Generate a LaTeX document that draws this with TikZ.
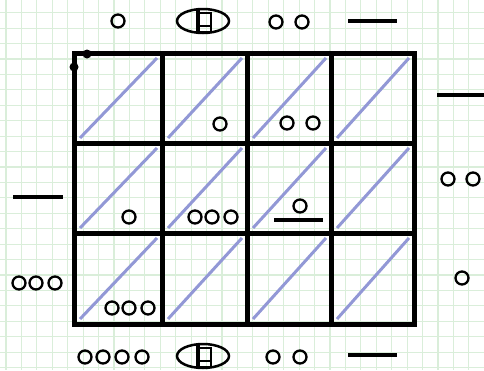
\documentclass[tikz,border=0pt]{standalone}
\usetikzlibrary{shapes.geometric}
\definecolor{gridgreen}{RGB}{218,238,218}
\definecolor{diagblue}{RGB}{146,152,214}
\tikzset{
  ring/.style={circle,draw=black,line width=2.3pt,minimum size=13pt,inner sep=0pt},
  bar/.style={line width=3.8pt,black},
  frame/.style={line width=5pt,black},
  diag/.style={line width=3pt,diagblue},
  symb/.style={ellipse,draw=black,line width=2.5pt,minimum width=52pt,minimum height=24pt,inner sep=0pt},
}
\newcommand{\symbolmark}[2]{%
  \node[symb] (#1) at (#2) {};
  \draw[black,line width=2pt] ([xshift=-6pt,yshift=8pt]#1.center) rectangle ([xshift=8pt,yshift=-11pt]#1.center);
  \draw[black,line width=2pt] ([xshift=-6pt,yshift=-5pt]#1.center) -- ([xshift=8pt,yshift=-5pt]#1.center);
  \draw[black,line width=4.5pt] ([xshift=-5pt,yshift=13pt]#1.center) -- ([xshift=-5pt,yshift=-12pt]#1.center);
}
\begin{document}
\begin{tikzpicture}[x=1pt,y=-1pt]
\useasboundingbox[fill=white] (0,0) rectangle (484,370);
% background grid
\foreach \k in {0,...,31} {\draw[gridgreen,line width=1.1pt] (6+15.43*\k,0) -- (6+15.43*\k,370);}
\foreach \k in {0,...,24} {\draw[gridgreen,line width=1.1pt] (0,-2.73+15.43*\k) -- (484,-2.73+15.43*\k);}
% diagonals
\foreach \xa/\xb in {74/162,162/247,247/331,331/414} {
  \foreach \ya/\yb in {53/143,143/233,233/324} {
    \draw[diag] (\xa+6,\yb-5) -- (\xb-5,\ya+5);
  }
}
% frame
\coordinate (tl) at (74,53);
\coordinate (br) at (414,324);
\draw[frame] (tl) rectangle (br);
\foreach \x in {162,247,331} {\draw[frame] (\x,53) -- (\x,324);}
\foreach \y in {143,233} {\draw[frame] (74,\y) -- (414,\y);}
\fill[black] (87,54) circle (4.5pt);
\fill[black] (74,67) circle (4.5pt);
% top labels
\node[ring] (t1) at (118,21) {};
\symbolmark{ts}{203,21}
\node[ring] (t3a) at (276,22) {};
\node[ring] (t3b) at (302,22) {};
\coordinate (t4a) at (348,21); \coordinate (t4b) at (397,21);
\draw[bar] (t4a) -- (t4b);
% bottom labels
\node[ring] (b1a) at (85,357) {};
\node[ring] (b1b) at (103,357) {};
\node[ring] (b1c) at (122,357) {};
\node[ring] (b1d) at (142,357) {};
\symbolmark{bs}{203,356}
\node[ring] (b3a) at (273,357) {};
\node[ring] (b3b) at (300,357) {};
\coordinate (b4a) at (348,355); \coordinate (b4b) at (397,355);
\draw[bar] (b4a) -- (b4b);
% left labels
\coordinate (l1a) at (13,197); \coordinate (l1b) at (63,197);
\draw[bar] (l1a) -- (l1b);
\node[ring] (l2a) at (19,283) {};
\node[ring] (l2b) at (36,283) {};
\node[ring] (l2c) at (55,283) {};
% right labels
\coordinate (r1a) at (437,95); \coordinate (r1b) at (484,95);
\draw[bar] (r1a) -- (r1b);
\node[ring] (r2a) at (448,179) {};
\node[ring] (r2b) at (473,179) {};
\node[ring] (r3) at (462,278) {};
% cell contents
\node[ring] (c12) at (220,124) {};
\node[ring] (c13a) at (287,123) {};
\node[ring] (c13b) at (313,123) {};
\node[ring] (c21) at (129,217) {};
\node[ring] (c22a) at (195,217) {};
\node[ring] (c22b) at (212,217) {};
\node[ring] (c22c) at (231,217) {};
\node[ring] (c23) at (300,206) {};
\coordinate (c23a) at (274,220); \coordinate (c23b) at (323,220);
\draw[bar] (c23a) -- (c23b);
\node[ring] (c31a) at (112,308) {};
\node[ring] (c31b) at (129,308) {};
\node[ring] (c31c) at (148,308) {};
\end{tikzpicture}
\end{document}
